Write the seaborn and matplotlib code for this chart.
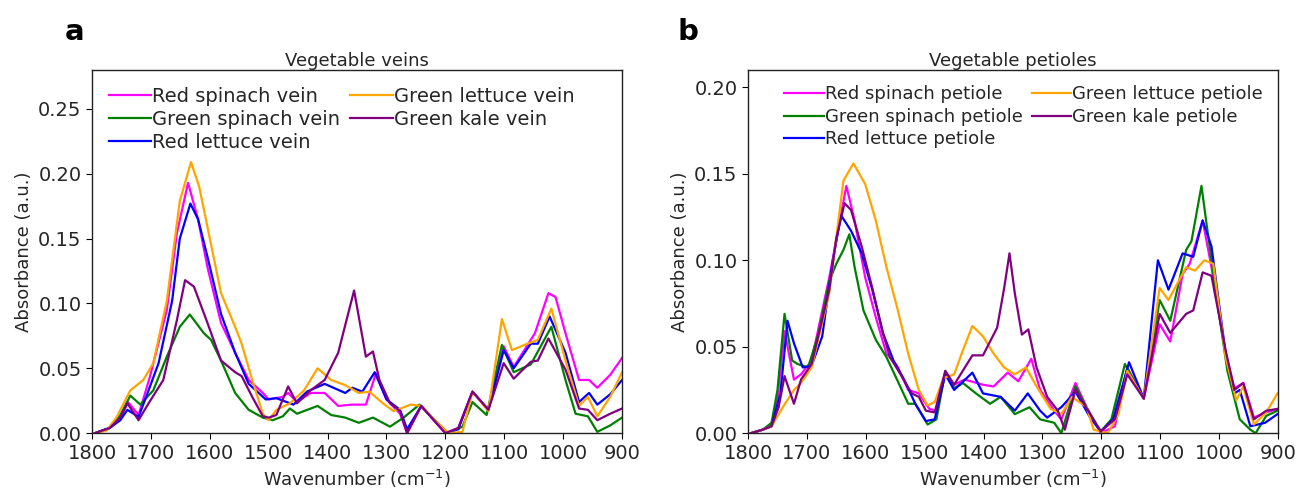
import seaborn as sns
import matplotlib.pyplot as plt
import pandas as pd

# ---- panel a: veins ----
wn_rs_vein = [1795, 1770, 1752, 1739, 1721, 1702, 1673, 1656, 1637, 1620, 1604, 1581, 1557, 1534, 1510, 1500, 1476, 1467, 1452, 1429, 1405, 1382, 1358, 1335, 1318, 1300, 1277, 1265, 1241, 1220, 1200, 1178, 1154, 1127, 1101, 1084, 1066, 1048, 1025, 1013, 996, 973, 956, 942, 920, 900]
ab_rs_vein = [0.0, 0.004, 0.012, 0.024, 0.014, 0.043, 0.095, 0.154, 0.193, 0.165, 0.128, 0.085, 0.062, 0.041, 0.031, 0.026, 0.028, 0.031, 0.024, 0.031, 0.031, 0.021, 0.022, 0.022, 0.046, 0.026, 0.015, 0.0, 0.021, 0.010, 0.0, 0.004, 0.032, 0.018, 0.067, 0.051, 0.064, 0.077, 0.108, 0.105, 0.077, 0.041, 0.041, 0.035, 0.045, 0.058]

wn_gs_vein = [1795, 1770, 1752, 1735, 1718, 1696, 1673, 1651, 1634, 1610, 1598, 1581, 1557, 1534, 1510, 1493, 1476, 1464, 1452, 1417, 1394, 1370, 1347, 1323, 1294, 1271, 1244, 1218, 1195, 1171, 1154, 1130, 1104, 1084, 1055, 1020, 996, 979, 958, 942, 920, 900]
ab_gs_vein = [0.0, 0.004, 0.014, 0.029, 0.022, 0.033, 0.059, 0.082, 0.0915, 0.077, 0.072, 0.056, 0.031, 0.018, 0.012, 0.010, 0.013, 0.019, 0.015, 0.021, 0.014, 0.012, 0.008, 0.012, 0.005, 0.012, 0.022, 0.010, 0.0, 0.005, 0.024, 0.014, 0.068, 0.047, 0.053, 0.082, 0.041, 0.015, 0.013, 0.001, 0.006, 0.012]

wn_rl_vein = [1795, 1770, 1752, 1740, 1721, 1704, 1687, 1664, 1651, 1633, 1620, 1604, 1581, 1557, 1534, 1505, 1487, 1458, 1435, 1405, 1370, 1358, 1341, 1320, 1300, 1277, 1265, 1241, 1199, 1178, 1154, 1127, 1101, 1084, 1055, 1043, 1023, 996, 973, 956, 942, 920, 900]
ab_rl_vein = [0.0, 0.004, 0.010, 0.018, 0.0125, 0.033, 0.054, 0.102, 0.150, 0.177, 0.165, 0.136, 0.092, 0.062, 0.038, 0.026, 0.027, 0.022, 0.032, 0.038, 0.031, 0.035, 0.032, 0.047, 0.026, 0.018, 0.003, 0.021, 0.0, 0.003, 0.032, 0.018, 0.064, 0.050, 0.069, 0.069, 0.090, 0.062, 0.024, 0.031, 0.022, 0.030, 0.041]

wn_gl_vein = [1795, 1775, 1758, 1735, 1713, 1696, 1673, 1651, 1632, 1618, 1604, 1581, 1557, 1546, 1528, 1510, 1500, 1487, 1464, 1440, 1417, 1394, 1370, 1347, 1329, 1306, 1288, 1259, 1241, 1218, 1195, 1171, 1154, 1127, 1104, 1087, 1066, 1043, 1020, 996, 973, 958, 942, 920, 900]
ab_gl_vein = [0.0, 0.002, 0.0125, 0.033, 0.041, 0.054, 0.102, 0.179, 0.209, 0.190, 0.159, 0.108, 0.082, 0.069, 0.041, 0.015, 0.010, 0.018, 0.023, 0.033, 0.050, 0.041, 0.037, 0.031, 0.032, 0.023, 0.017, 0.022, 0.021, 0.010, 0.0, 0.001, 0.032, 0.017, 0.088, 0.064, 0.068, 0.072, 0.096, 0.056, 0.021, 0.028, 0.013, 0.028, 0.047]

wn_gk_vein = [1795, 1770, 1752, 1740, 1721, 1704, 1679, 1656, 1642, 1627, 1604, 1581, 1557, 1546, 1528, 1510, 1500, 1487, 1467, 1452, 1429, 1405, 1382, 1368, 1355, 1344, 1335, 1323, 1312, 1294, 1277, 1265, 1241, 1200, 1178, 1154, 1127, 1101, 1084, 1055, 1043, 1025, 996, 973, 958, 942, 920, 900]
ab_gk_vein = [0.0, 0.004, 0.012, 0.023, 0.010, 0.023, 0.041, 0.087, 0.118, 0.113, 0.085, 0.056, 0.047, 0.044, 0.028, 0.013, 0.012, 0.014, 0.036, 0.023, 0.033, 0.041, 0.062, 0.087, 0.110, 0.082, 0.059, 0.063, 0.041, 0.023, 0.017, 0.0, 0.021, 0.0, 0.004, 0.032, 0.018, 0.054, 0.042, 0.055, 0.056, 0.073, 0.049, 0.019, 0.018, 0.010, 0.015, 0.019]

# ---- panel b: petioles ----
wn_rs_pet = [1795, 1775, 1760, 1750, 1738, 1722, 1710, 1692, 1662, 1644, 1633, 1619, 1601, 1583, 1565, 1547, 1528, 1510, 1492, 1480, 1465, 1450, 1432, 1401, 1383, 1359, 1341, 1319, 1304, 1280, 1268, 1244, 1225, 1201, 1177, 1156, 1128, 1101, 1083, 1062, 1050, 1028, 1013, 989, 974, 959, 941, 920, 901]
ab_rs_pet = [0.0, 0.002, 0.005, 0.020, 0.059, 0.031, 0.034, 0.042, 0.090, 0.123, 0.143, 0.123, 0.090, 0.067, 0.046, 0.039, 0.025, 0.023, 0.014, 0.013, 0.035, 0.028, 0.031, 0.028, 0.027, 0.035, 0.030, 0.043, 0.025, 0.013, 0.008, 0.029, 0.015, 0.0, 0.004, 0.038, 0.020, 0.063, 0.053, 0.092, 0.098, 0.123, 0.096, 0.046, 0.026, 0.029, 0.009, 0.012, 0.014]

wn_gs_pet = [1795, 1775, 1760, 1750, 1738, 1725, 1716, 1698, 1680, 1662, 1650, 1638, 1628, 1619, 1604, 1583, 1565, 1547, 1528, 1516, 1495, 1480, 1465, 1450, 1435, 1413, 1389, 1371, 1347, 1322, 1304, 1280, 1268, 1244, 1219, 1201, 1183, 1160, 1128, 1101, 1083, 1056, 1047, 1030, 1019, 1001, 986, 965, 947, 938, 920, 901]
ab_gs_pet = [0.0, 0.002, 0.006, 0.025, 0.069, 0.042, 0.040, 0.038, 0.058, 0.088, 0.098, 0.106, 0.115, 0.096, 0.071, 0.054, 0.044, 0.031, 0.017, 0.017, 0.005, 0.008, 0.036, 0.026, 0.029, 0.023, 0.017, 0.021, 0.011, 0.015, 0.008, 0.006, 0.0, 0.027, 0.011, 0.001, 0.008, 0.040, 0.020, 0.077, 0.065, 0.106, 0.111, 0.143, 0.115, 0.071, 0.036, 0.008, 0.002, 0.0, 0.010, 0.013]

wn_rl_pet = [1795, 1775, 1760, 1745, 1733, 1722, 1707, 1692, 1674, 1656, 1642, 1625, 1607, 1589, 1571, 1553, 1535, 1516, 1498, 1483, 1465, 1450, 1419, 1401, 1371, 1347, 1325, 1304, 1292, 1268, 1244, 1219, 1201, 1180, 1153, 1128, 1104, 1086, 1062, 1044, 1028, 1013, 989, 974, 965, 947, 922, 901]
ab_rl_pet = [0.0, 0.002, 0.004, 0.023, 0.065, 0.052, 0.038, 0.039, 0.056, 0.100, 0.126, 0.117, 0.104, 0.083, 0.058, 0.042, 0.031, 0.017, 0.007, 0.008, 0.034, 0.025, 0.035, 0.023, 0.021, 0.013, 0.023, 0.013, 0.009, 0.015, 0.024, 0.009, 0.001, 0.008, 0.041, 0.020, 0.100, 0.083, 0.104, 0.102, 0.123, 0.108, 0.046, 0.023, 0.025, 0.004, 0.006, 0.011]

wn_gl_pet = [1795, 1775, 1760, 1741, 1722, 1710, 1692, 1662, 1638, 1621, 1601, 1583, 1565, 1547, 1528, 1510, 1495, 1483, 1468, 1450, 1435, 1419, 1401, 1383, 1365, 1347, 1328, 1310, 1286, 1268, 1250, 1225, 1213, 1189, 1171, 1156, 1128, 1101, 1086, 1056, 1041, 1025, 1010, 989, 971, 959, 941, 920, 901]
ab_gl_pet = [0.0, 0.002, 0.004, 0.015, 0.025, 0.029, 0.038, 0.081, 0.146, 0.156, 0.144, 0.123, 0.096, 0.073, 0.046, 0.025, 0.016, 0.018, 0.032, 0.034, 0.048, 0.062, 0.056, 0.046, 0.038, 0.034, 0.038, 0.027, 0.014, 0.011, 0.021, 0.015, 0.002, 0.0, 0.011, 0.036, 0.020, 0.084, 0.077, 0.096, 0.094, 0.100, 0.098, 0.044, 0.019, 0.027, 0.005, 0.012, 0.023]

wn_gk_pet = [1795, 1775, 1760, 1748, 1738, 1722, 1710, 1692, 1662, 1650, 1636, 1625, 1607, 1589, 1571, 1559, 1541, 1522, 1510, 1498, 1483, 1465, 1450, 1419, 1401, 1377, 1365, 1356, 1347, 1335, 1324, 1310, 1292, 1274, 1262, 1244, 1219, 1201, 1177, 1156, 1128, 1101, 1083, 1056, 1044, 1028, 1013, 989, 974, 959, 941, 920, 901]
ab_gk_pet = [0.0, 0.002, 0.004, 0.015, 0.033, 0.017, 0.031, 0.040, 0.083, 0.113, 0.133, 0.129, 0.108, 0.084, 0.058, 0.044, 0.034, 0.023, 0.021, 0.013, 0.012, 0.036, 0.028, 0.045, 0.045, 0.061, 0.084, 0.104, 0.081, 0.057, 0.060, 0.038, 0.021, 0.013, 0.002, 0.025, 0.011, 0.001, 0.008, 0.034, 0.020, 0.069, 0.058, 0.069, 0.071, 0.093, 0.091, 0.048, 0.025, 0.029, 0.008, 0.013, 0.014]

vein_names = ["Red spinach vein", "Green spinach vein", "Red lettuce vein", "Green lettuce vein", "Green kale vein"]
petiole_names = ["Red spinach petiole", "Green spinach petiole", "Red lettuce petiole", "Green lettuce petiole", "Green kale petiole"]
colors = ["magenta", "green", "blue", "orange", "purple"]

vein_series = [(wn_rs_vein, ab_rs_vein), (wn_gs_vein, ab_gs_vein), (wn_rl_vein, ab_rl_vein),
               (wn_gl_vein, ab_gl_vein), (wn_gk_vein, ab_gk_vein)]
petiole_series = [(wn_rs_pet, ab_rs_pet), (wn_gs_pet, ab_gs_pet), (wn_rl_pet, ab_rl_pet),
                  (wn_gl_pet, ab_gl_pet), (wn_gk_pet, ab_gk_pet)]


def long_df(names, series):
    rows = []
    for name, (w, a) in zip(names, series):
        rows.append(pd.DataFrame({"wn": w, "ab": a, "sample": name}))
    return pd.concat(rows, ignore_index=True)


df_vein = long_df(vein_names, vein_series)
df_pet = long_df(petiole_names, petiole_series)

plt.rcParams['font.family'] = ['DejaVu Sans']
plt.rcParams['lines.solid_joinstyle'] = 'round'
text_col = '#262626'

fig = plt.figure(figsize=(13, 4.9), dpi=100)
ax1 = fig.add_axes([0.0708, 0.116, 0.4077, 0.741])
ax2 = fig.add_axes([0.5754, 0.116, 0.4077, 0.741])

# (axes, data, names, title, ymax, yticks, legend loc, anchor, legend font, row gap)
panels = [
    (ax1, df_vein, vein_names, "Vegetable veins", 0.28, [0, 0.05, 0.10, 0.15, 0.20, 0.25], "upper left", (0.0, 1.0), 14, 0.22),
    (ax2, df_pet, petiole_names, "Vegetable petioles", 0.21, [0, 0.05, 0.10, 0.15, 0.20], "upper center", (0.52, 1.0), 13, 0.25),
]

for ax, df, names, title, ymax, yticks, loc, anchor, lfs, lsp in panels:
    sns.lineplot(data=df, x="wn", y="ab", hue="sample", hue_order=names,
                 palette=dict(zip(names, colors)), estimator=None, sort=False,
                 linewidth=1.6, ax=ax)
    ax.set_xlim(1800, 900)
    ax.set_ylim(0, ymax)
    ax.set_xticks(range(1800, 899, -100))
    ax.set_yticks(yticks)
    ax.set_yticklabels([f"{t:.2f}" for t in yticks])
    ax.set_xlabel("Wavenumber (cm$^{-1}$)", fontsize=13, color=text_col)
    ax.set_ylabel("Absorbance (a.u.)", fontsize=13, color=text_col)
    ax.set_title(title, fontsize=13, color=text_col, pad=3)
    ax.tick_params(labelsize=14, labelcolor=text_col, direction='out', length=4)
    for s in ax.spines.values():
        s.set_linewidth(1.0)
        s.set_color('#222222')
    ax.legend(loc=loc, bbox_to_anchor=anchor, ncol=2, frameon=False, fontsize=lfs,
              handlelength=2.2, handletextpad=0.05, columnspacing=0.5,
              labelspacing=lsp, borderaxespad=0.45, labelcolor=text_col)

fig.text(0.05, 0.935, "a", fontsize=21, fontweight='bold', ha='left', va='center')
fig.text(0.521, 0.935, "b", fontsize=21, fontweight='bold', ha='left', va='center')

fig.savefig("out.png", dpi=100)
